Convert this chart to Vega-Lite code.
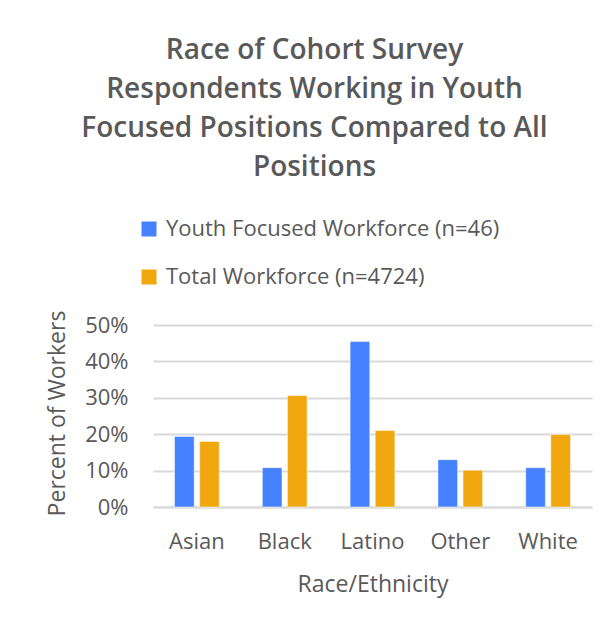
{
  "$schema": "https://vega.github.io/schema/vega-lite/v6.json",
  "autosize": "none",
  "width": 439,
  "height": 182,
  "padding": {"left": 153, "top": 325, "right": 22, "bottom": 120},
  "background": "white",
  "title": {
    "text": ["Race of Cohort Survey", "Respondents Working in Youth", "Focused Positions Compared to All", "Positions"],
    "anchor": "middle",
    "frame": "group",
    "dx": -58,
    "offset": 36,
    "font": "Open Sans",
    "fontSize": 28,
    "fontWeight": 600,
    "lineHeight": 39,
    "color": "#595959"
  },
  "data": {
    "values": [
      {"race": "Asian", "series": "Youth Focused Workforce (n=46)", "pct": 0.194},
      {"race": "Asian", "series": "Total Workforce (n=4724)", "pct": 0.180},
      {"race": "Black", "series": "Youth Focused Workforce (n=46)", "pct": 0.108},
      {"race": "Black", "series": "Total Workforce (n=4724)", "pct": 0.306},
      {"race": "Latino", "series": "Youth Focused Workforce (n=46)", "pct": 0.455},
      {"race": "Latino", "series": "Total Workforce (n=4724)", "pct": 0.210},
      {"race": "Other", "series": "Youth Focused Workforce (n=46)", "pct": 0.130},
      {"race": "Other", "series": "Total Workforce (n=4724)", "pct": 0.101},
      {"race": "White", "series": "Youth Focused Workforce (n=46)", "pct": 0.108},
      {"race": "White", "series": "Total Workforce (n=4724)", "pct": 0.199}
    ]
  },
  "mark": {"type": "bar", "stroke": "white", "strokeOpacity": 0.5, "strokeWidth": 1},
  "encoding": {
    "x": {
      "field": "race",
      "type": "nominal",
      "sort": null,
      "scale": {"paddingInner": 0.49, "paddingOuter": 0.245},
      "axis": {
        "title": "Race/Ethnicity",
        "labelAngle": 0,
        "labelFont": "Open Sans",
        "labelFontSize": 22,
        "labelColor": "#595959",
        "labelPadding": 24,
        "ticks": false,
        "domainColor": "#d9d9d9",
        "domainWidth": 2,
        "titleFont": "Open Sans",
        "titleFontSize": 23,
        "titleFontWeight": "normal",
        "titleColor": "#595959",
        "titlePadding": 21
      }
    },
    "xOffset": {
      "field": "series",
      "type": "nominal",
      "sort": ["Youth Focused Workforce (n=46)", "Total Workforce (n=4724)"],
      "scale": {"paddingInner": 0.216, "paddingOuter": 0}
    },
    "y": {
      "field": "pct",
      "type": "quantitative",
      "scale": {"domain": [0, 0.5], "nice": false},
      "axis": {
        "title": "Percent of Workers",
        "values": [0, 0.1, 0.2, 0.3, 0.4, 0.5],
        "format": ".0%",
        "labelFont": "Open Sans",
        "labelFontSize": 22,
        "labelColor": "#595959",
        "labelPadding": 25,
        "ticks": false,
        "domain": false,
        "gridColor": "#d9d9d9",
        "gridWidth": 2,
        "titleFont": "Open Sans",
        "titleFontSize": 23,
        "titleFontWeight": "normal",
        "titleColor": "#595959",
        "titlePadding": 15,
        "titleY": 88
      }
    },
    "color": {
      "field": "series",
      "type": "nominal",
      "sort": ["Youth Focused Workforce (n=46)", "Total Workforce (n=4724)"],
      "scale": {"range": ["#4682FF", "#F0A80E"]},
      "legend": {
        "title": null,
        "orient": "none",
        "legendX": -15,
        "legendY": -107,
        "direction": "vertical",
        "symbolType": "square",
        "symbolSize": 225,
        "symbolStrokeWidth": 0,
        "labelFont": "Open Sans",
        "labelFontSize": 22,
        "labelColor": "#595959",
        "labelOffset": 6,
        "labelLimit": 500,
        "rowPadding": 26
      }
    }
  },
  "config": {"view": {"stroke": null}}
}
